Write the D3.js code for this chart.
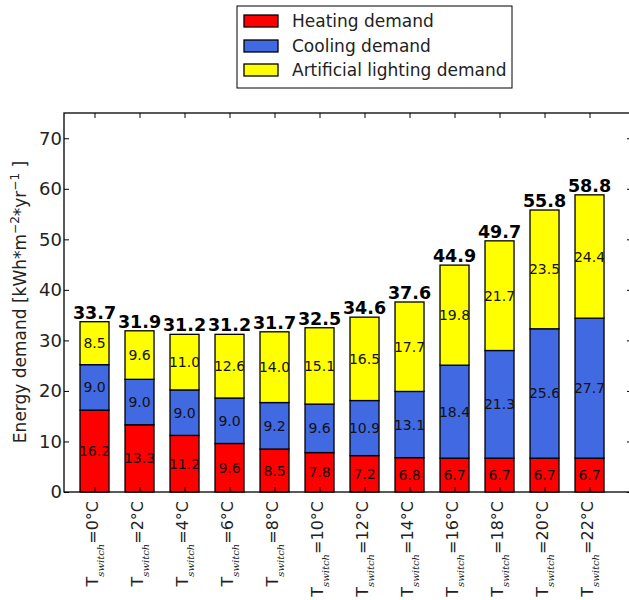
<!DOCTYPE html>
<html><head><meta charset="utf-8">
<script src="https://cdn.jsdelivr.net/npm/d3@7"></script>
<style>body{margin:0;background:#fff}svg{display:block}text{font-family:"DejaVu Sans",sans-serif}</style>
</head><body>
<script>
const categories = ["0","2","4","6","8","10","12","14","16","18","20","22"];
const heating = [16.2,13.3,11.2,9.6,8.5,7.8,7.2,6.8,6.7,6.7,6.7,6.7];
const cooling = [9.0,9.0,9.0,9.0,9.2,9.6,10.9,13.1,18.4,21.3,25.6,27.7];
const lighting = [8.5,9.6,11.0,12.6,14.0,15.1,16.5,17.7,19.8,21.7,23.5,24.4];
const totals = [33.7,31.9,31.2,31.2,31.7,32.5,34.6,37.6,44.9,49.7,55.8,58.8];
const seriesNames = ["Heating demand","Cooling demand","Artificial lighting demand"];
const seriesColors = ["#ff0000","#4169e1","#ffff00"];
const yTicks = [0,10,20,30,40,50,60,70];

const W=629,H=600;
const L=64,R=632,T=113,B=492;
const svg=d3.select("body").append("svg").attr("width",W).attr("height",H);
const defs=svg.append("defs");
const x=d3.scaleLinear().domain([-0.678,11.944]).range([L,R]);
const y=d3.scaleLinear().domain([0,75]).range([B,T]);
const bw=29;

const series=[heating,cooling,lighting];
const data=categories.map((c,i)=>({i,vals:series.map(s=>s[i])}));
const stack=d3.stack().keys([0,1,2]).value((d,k)=>d.vals[k]);
const stacked=stack(data);

stacked.forEach((layer,k)=>{
  layer.forEach(d=>{
    defs.append("clipPath").attr("id",`c${k}_${d.data.i}`).append("rect")
      .attr("x",x(d.data.i)-bw/2).attr("width",bw)
      .attr("y",y(d[1])).attr("height",y(d[0])-y(d[1]));
  });
  svg.append("g").selectAll("rect").data(layer).join("rect")
    .attr("x",d=>x(d.data.i)-bw/2).attr("width",bw)
    .attr("y",d=>y(d[1])).attr("height",d=>y(d[0])-y(d[1]))
    .attr("fill",seriesColors[k]).attr("stroke","#000").attr("stroke-width",1.3);
  svg.append("g").selectAll("text").data(layer).join("text")
    .attr("clip-path",d=>`url(#c${k}_${d.data.i})`)
    .attr("x",d=>x(d.data.i)).attr("y",d=>y((d[0]+d[1])/2))
    .attr("text-anchor","middle").attr("dominant-baseline","central")
    .attr("font-size",14).attr("fill","#111")
    .text(d=>d.data.vals[k].toFixed(1));
});

svg.append("g").selectAll("text").data(totals).join("text")
  .attr("x",(d,i)=>x(i)).attr("y",d=>y(d)-3)
  .attr("text-anchor","middle").attr("font-size",17.5).attr("font-weight","bold")
  .text(d=>d.toFixed(1));

// frame
svg.append("rect").attr("x",L).attr("y",T).attr("width",R-L).attr("height",B-T)
  .attr("fill","none").attr("stroke","#000").attr("stroke-width",1.3);

// y ticks
const yAxis=d3.axisLeft(y).tickValues(yTicks).tickSize(-5).tickPadding(2);
const gy=svg.append("g").attr("transform",`translate(${L},0)`).call(yAxis);
gy.select(".domain").remove();
gy.selectAll("text").attr("font-size",18).attr("font-family","DejaVu Sans").attr("fill","#222");
const yAxisR=d3.axisRight(y).tickValues(yTicks).tickSize(-5).tickFormat("");
const gyr=svg.append("g").attr("transform",`translate(${R},0)`).call(yAxisR);
gyr.select(".domain").remove();

// x ticks
const idx=categories.map((c,i)=>i);
const gx=svg.append("g").attr("transform",`translate(0,${B})`)
  .call(d3.axisBottom(x).tickValues(idx).tickSize(-5).tickFormat(""));
gx.select(".domain").remove();
const gxt=svg.append("g").attr("transform",`translate(0,${T})`)
  .call(d3.axisTop(x).tickValues(idx).tickSize(-5).tickFormat(""));
gxt.select(".domain").remove();

// x labels
const xl=svg.append("g").selectAll("text").data(categories).join("text")
  .attr("transform",(d,i)=>`translate(${x(i)+3},${B+9}) rotate(-90)`)
  .attr("text-anchor","end").attr("font-size",16).attr("fill","#222");
xl.append("tspan").text("T");
xl.append("tspan").attr("font-family","DejaVu Serif").attr("font-style","italic")
  .attr("font-size",10).attr("dy",6).text("switch");
xl.append("tspan").attr("dy",-6).text(d=>"=" + d + "°C");

// y label
const yl=svg.append("text").attr("transform",`translate(26,${302}) rotate(-90)`)
  .attr("text-anchor","middle").attr("font-size",17).attr("fill","#222");
yl.append("tspan").text("Energy demand [kWh*m");
yl.append("tspan").attr("font-size",12).attr("dy",-7).text("−2");
yl.append("tspan").attr("dy",7).text("*yr");
yl.append("tspan").attr("font-size",12).attr("dy",-7).text("−1");
yl.append("tspan").attr("dy",7).text(" ]");

// legend
const lg=svg.append("g");
lg.append("rect").attr("x",237).attr("y",6).attr("width",275).attr("height",82)
  .attr("fill","#fff").attr("stroke","#000").attr("stroke-width",1);
const ly=[21,46,70];
seriesNames.forEach((n,k)=>{
  lg.append("rect").attr("x",244).attr("y",ly[k]-6).attr("width",34).attr("height",12)
    .attr("fill",seriesColors[k]).attr("stroke","#000").attr("stroke-width",1.3);
  lg.append("text").attr("x",292).attr("y",ly[k]).attr("dominant-baseline","central")
    .attr("font-size",17).attr("fill","#222").text(n);
});
</script>
</body></html>
